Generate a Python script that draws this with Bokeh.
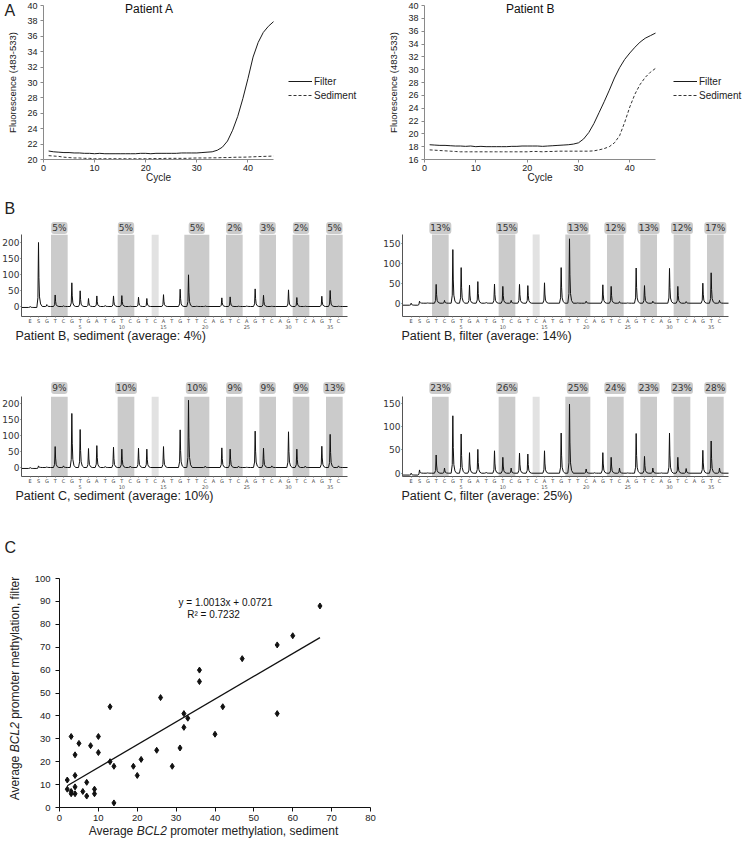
import math
from bokeh.plotting import figure
from bokeh.models import Range1d, Label, Legend, LegendItem, FixedTicker, LinearAxis
from bokeh.layouts import column, row
from bokeh.embed import file_html
from bokeh.resources import INLINE

SANS = "Liberation Sans"
DEJA = "DejaVu Sans"

# ---------------- Panel A data (real-time PCR curves) ----------------
cycles = list(range(1, 46))
a_filter = [21.1, 21.0, 20.95, 20.9, 20.9, 20.85, 20.85, 20.8, 20.8, 20.75,
            20.8, 20.75, 20.75, 20.75, 20.75, 20.75, 20.75, 20.75, 20.8, 20.8,
            20.75, 20.8, 20.8, 20.8, 20.8, 20.8, 20.85, 20.85, 20.85, 20.85,
            20.9, 20.95, 21.0, 21.2, 21.6, 22.4, 23.8, 25.6, 27.9, 30.5,
            33.3, 35.2, 36.5, 37.3, 37.9]
a_sediment = [20.5, 20.45, 20.4, 20.3, 20.25, 20.2, 20.2, 20.15, 20.15, 20.1,
              20.1, 20.1, 20.1, 20.1, 20.1, 20.1, 20.1, 20.1, 20.1, 20.1,
              20.12, 20.12, 20.12, 20.15, 20.15, 20.15, 20.15, 20.15, 20.18, 20.2,
              20.2, 20.2, 20.22, 20.22, 20.25, 20.25, 20.28, 20.3, 20.3, 20.32,
              20.35, 20.38, 20.4, 20.42, 20.45]
b_filter = [18.3, 18.25, 18.2, 18.2, 18.15, 18.1, 18.1, 18.05, 18.1, 18.0,
            18.05, 18.0, 18.0, 18.0, 18.0, 18.0, 18.05, 18.05, 18.1, 18.1,
            18.1, 18.1, 18.05, 18.1, 18.15, 18.2, 18.25, 18.3, 18.4, 18.6,
            19.2, 20.2, 21.6, 23.3, 25.0, 26.8, 28.7, 30.3, 31.6, 32.6,
            33.5, 34.3, 34.9, 35.3, 35.7]
b_sediment = [17.5, 17.45, 17.4, 17.35, 17.3, 17.25, 17.2, 17.2, 17.2, 17.2,
              17.2, 17.2, 17.2, 17.2, 17.2, 17.2, 17.2, 17.2, 17.2, 17.2,
              17.25, 17.25, 17.2, 17.25, 17.25, 17.3, 17.3, 17.3, 17.3, 17.3,
              17.3, 17.3, 17.35, 17.5, 17.7, 18.0, 18.6, 19.7, 21.8, 24.2,
              26.2, 27.7, 28.8, 29.6, 30.2]
a_x_ticks = [0, 10, 20, 30, 40]

# ---------------- Panel B data (pyrograms) ----------------
dispensation = ["E", "S", "G", "T", "C", "G", "T", "G", "A", "T",
                "G", "T", "C", "G", "T", "C", "A", "T", "G", "T",
                "T", "C", "A", "G", "T", "C", "A", "G", "T", "C",
                "A", "G", "T", "C", "A", "G", "T", "C"]
cpg_sites = [(2, 3), (10, 11), (18, 20), (23, 24), (27, 28), (31, 32), (35, 36)]
control_site = 14
number_ticks = [5, 10, 15, 20, 25, 30, 35]

pb_sed_heights = [0, 200, 6, 36, 2, 74, 49, 25, 33, 3, 33, 34, 1, 29, 25, 0, 37, 0, 54, 99,
                  1, 2, 0, 27, 30, 1, 2, 55, 35, 1, 0, 52, 28, 1, 0, 32, 50, 1]
pb_fil_heights = [0, 5, 1, 47, 7, 134, 89, 45, 54, 2, 48, 42, 7, 47, 44, 0, 51, 0, 89, 161,
                  1, 5, 0, 46, 42, 4, 1, 88, 44, 5, 0, 87, 42, 4, 0, 50, 76, 7]
pc_sed_heights = [0, 5, 2, 65, 5, 168, 118, 59, 68, 3, 63, 57, 4, 60, 57, 0, 65, 0, 117, 209,
                  0, 4, 0, 61, 57, 4, 1, 113, 60, 5, 0, 111, 57, 4, 0, 66, 103, 5]
pc_fil_heights = [0, 7, 1, 39, 11, 123, 84, 44, 51, 2, 48, 34, 11, 43, 41, 0, 48, 0, 86, 148,
                  0, 9, 1, 44, 34, 11, 1, 85, 36, 11, 1, 86, 34, 10, 0, 49, 69, 11]
pb_sed_start, pb_fil_start, pc_sed_start, pc_fil_start = -3, -5, -3, -4

pb_sed_pct = ["5%", "5%", "5%", "2%", "3%", "2%", "5%"]
pb_fil_pct = ["13%", "15%", "13%", "12%", "13%", "12%", "17%"]
pc_sed_pct = ["9%", "10%", "10%", "9%", "9%", "9%", "13%"]
pc_fil_pct = ["23%", "26%", "25%", "24%", "23%", "23%", "28%"]

pb_sed_caption = "Patient B, sediment (average: 4%)"
pb_fil_caption = "Patient B, filter (average: 14%)"
pc_sed_caption = "Patient C, sediment (average: 10%)"
pc_fil_caption = "Patient C, filter (average: 25%)"

# ---------------- Panel C data (scatter) ----------------
sediment_meth = [2, 2, 3, 3, 3, 4, 4, 4, 4, 5, 6, 7, 7, 8, 9, 9, 10, 10, 13, 13, 14,
                 14, 19, 20, 21, 25, 26, 29, 31, 32, 32, 33, 36, 36, 40, 42, 47, 56, 56, 60, 67]
filter_meth = [12, 8, 31, 7, 6, 23, 14, 9, 6, 28, 7, 11, 5, 27, 8, 6, 31, 24, 44, 20, 18,
               2, 18, 14, 21, 25, 48, 18, 26, 41, 35, 39, 60, 55, 32, 44, 65, 71, 41, 75, 88]
trend_x = [2, 67]
trend_y = [9.5, 74.2]
c_x_ticks = list(range(0, 90, 10))
c_y_ticks = list(range(0, 110, 10))
equation_text = "y = 1.0013x + 0.0721"
r2_text = "R\u00b2 = 0.7232"


class Geo:
    """Figure box and plot-area box in page pixels, plus the plot-area data limits."""
    def __init__(self, fx, fy, fw, fh, pl, pr, pt, pb, x0, x1, y0, y1):
        self.fx, self.fy, self.fw, self.fh = fx, fy, fw, fh
        self.pl, self.pr, self.pt, self.pb = pl, pr, pt, pb
        self.x0, self.x1, self.y0, self.y1 = x0, x1, y0, y1

    def x(self, px):
        return self.x0 + (px - self.pl) * (self.x1 - self.x0) / (self.pr - self.pl)

    def y(self, py):
        return self.y0 + (self.pb - py) * (self.y1 - self.y0) / (self.pb - self.pt)


def make_fig(g):
    # the frame fills the whole figure; axes are pinned with fixed_location
    p = figure(width=g.fw, height=g.fh, title=None,
               x_range=Range1d(g.x(g.fx), g.x(g.fx + g.fw)),
               y_range=Range1d(g.y(g.fy + g.fh), g.y(g.fy)),
               output_backend="svg", toolbar_location=None,
               min_border_left=0, min_border_right=0,
               min_border_top=0, min_border_bottom=0)
    p.outline_line_color = None
    p.xgrid.visible = False
    p.ygrid.visible = False
    p.xaxis.fixed_location = g.y0
    p.yaxis.fixed_location = g.x0
    p.xaxis.bounds = (g.x0, g.x1)
    p.yaxis.bounds = (g.y0, g.y1)
    return p


def add_text(p, g, px, py, text, size, font=SANS, align="left", baseline="middle",
             angle=0.0, style="normal", color="#222222"):
    p.add_layout(Label(x=g.x(px), y=g.y(py), text=text, text_font=font,
                       text_font_size=f"{size}px", text_align=align,
                       text_baseline=baseline, angle=angle,
                       text_font_style=style, text_color=color))


# ---------------- Panel A ----------------
def pcr_panel(g, filt, sed, yticks, title, title_x, legend_px, letter=None):
    p = make_fig(g)
    r1 = p.line(cycles, filt, line_color="#1a1a1a", line_width=1.0)
    r2 = p.line(cycles, sed, line_color="#333333", line_width=1.0, line_dash="3 2")
    for ax in (p.xaxis[0], p.yaxis[0]):
        ax.axis_line_color = "#8a8a8a"
        ax.major_tick_line_color = "#8a8a8a"
        ax.minor_tick_line_color = None
        ax.major_tick_out = 3
        ax.major_tick_in = 0
        ax.major_label_text_font = SANS
        ax.major_label_text_font_size = "9px"
        ax.major_label_text_color = "#222222"
        ax.axis_label_text_font = SANS
        ax.axis_label_text_font_style = "normal"
        ax.axis_label_text_color = "#222222"
    p.xaxis.ticker = FixedTicker(ticks=a_x_ticks)
    p.yaxis.ticker = FixedTicker(ticks=yticks)
    p.xaxis.major_label_standoff = 2
    p.yaxis.major_label_standoff = 3
    p.xaxis.axis_label = "Cycle"
    p.xaxis.axis_label_text_font_size = "10px"
    p.xaxis.axis_label_standoff = -2
    p.yaxis.axis_label = "Fluorescence (483-533)"
    p.yaxis.axis_label_text_font_size = "9.5px"
    p.yaxis.axis_label_standoff = 6
    add_text(p, g, g.pl + (g.pr - g.pl) * title_x / 45.0, 8, title, 12, align="center",
             color="#111111")
    leg = Legend(items=[LegendItem(label="Filter", renderers=[r1]),
                        LegendItem(label="Sediment", renderers=[r2])],
                 location=(legend_px - g.fx, g.fy + g.fh - 101), border_line_color=None,
                 background_fill_alpha=0, label_text_font=SANS,
                 label_text_font_size="10px", label_text_color="#222222",
                 glyph_width=24, glyph_height=12, label_height=12, spacing=2,
                 label_standoff=2, margin=0, padding=0)
    p.add_layout(leg)
    if letter:
        add_text(p, g, 4, 10, letter, 16)
    return p


gA1 = Geo(0, 0, 370, 185, 43, 273, 5, 159, 0, 45, 20, 40)
gA2 = Geo(370, 0, 372, 185, 424, 655, 5, 159, 0, 45, 16, 40)
pA1 = pcr_panel(gA1, a_filter, a_sediment, list(range(20, 42, 2)), "Patient A", 20.7, 288, "A")
pA2 = pcr_panel(gA2, b_filter, b_sediment, list(range(16, 42, 2)), "Patient B", 20.6, 673)


# ---------------- Panel B ----------------
def trace(heights, start_level, x_left, x_right):
    xs = [x_left]
    ys = [start_level]
    for k, h in enumerate(heights):
        pos = k - 1
        pre = start_level if pos <= 0 else 0.0
        post = start_level if pos < 0 else 0.0
        if h <= pre + 0.5:
            continue
        xs += [pos - 0.2, pos - 0.07, pos, pos + 0.05, pos + 0.12, pos + 0.25, pos + 0.45]
        ys += [pre, pre + 0.15 * (h - pre), h, post + 0.45 * (h - post),
               post + 0.15 * (h - post), post + 0.04 * (h - post), post]
    xs.append(x_right)
    ys.append(0.0)
    return xs, ys


def pyro_panel(fx, fy, fw, pl, zero_py, ppu, axis_top_py, heights, start, pcts, caption,
               yticks, caption_px, letter=None):
    pb = fy + 131
    x0, x1 = -2.04, 37.08
    y0 = -(pb - zero_py) / ppu
    y1 = (zero_py - axis_top_py) / ppu
    g = Geo(fx, fy, fw, 160, pl, pl + 326, axis_top_py, pb, x0, x1, y0, y1)
    p = make_fig(g)
    for (a, b) in cpg_sites:
        p.quad(left=[a - 0.5], right=[b + 0.5], bottom=[y0], top=[y1],
               fill_color="#cbcbcb", line_color=None)
    p.quad(left=[control_site - 0.42], right=[control_site + 0.42], bottom=[y0], top=[y1],
           fill_color="#e2e2e2", line_color=None)
    xs, ys = trace(heights, start, x0, x1)
    p.line(xs, ys, line_color="#111111", line_width=1.0)
    for (a, b), t in zip(cpg_sites, pcts):
        p.add_layout(Label(x=(a + b) / 2, y=g.y(fy + 42.5), text=t, text_font=DEJA,
                           text_font_size="9px", text_align="center", text_baseline="middle",
                           text_color="#333333", background_fill_color="#cbcbcb",
                           padding=1, border_radius=3))
    xa = p.xaxis[0]
    xa.ticker = FixedTicker(ticks=list(range(-1, 37)))
    xa.major_label_overrides = {i - 1: s for i, s in enumerate(dispensation)}
    xa.major_label_text_font = DEJA
    xa.major_label_text_font_size = "5px"
    xa.major_label_text_color = "#444444"
    xa.major_label_standoff = 0
    xa.major_tick_out = 1
    xa.major_tick_in = 0
    xa.minor_tick_line_color = None
    xa.axis_line_color = "#555555"
    xa.major_tick_line_color = "#777777"
    nax = LinearAxis(ticker=FixedTicker(ticks=number_ticks), axis_line_color=None,
                     major_tick_line_color=None, minor_tick_line_color=None,
                     major_tick_out=0, major_tick_in=0,
                     major_label_text_font=DEJA, major_label_text_font_size="5px",
                     major_label_text_color="#555555", major_label_standoff=8,
                     fixed_location=y0)
    p.add_layout(nax, "below")
    ya = p.yaxis[0]
    ya.ticker = FixedTicker(ticks=yticks)
    ya.major_label_text_font = DEJA
    ya.major_label_text_font_size = "9px"
    ya.major_label_text_color = "#333333"
    ya.major_label_standoff = 1
    ya.major_tick_out = 1
    ya.major_tick_in = 0
    ya.minor_tick_line_color = None
    ya.axis_line_color = "#555555"
    ya.major_tick_line_color = "#555555"
    add_text(p, g, caption_px, fy + 150, caption, 12.5)
    if letter:
        add_text(p, g, 4, fy + 23, letter, 16)
    return p


pB1 = pyro_panel(0, 185, 370, 21, 306, 0.32, 234.3, pb_sed_heights, pb_sed_start,
                 pb_sed_pct, pb_sed_caption, [0, 50, 100, 150, 200], 15, "B")
pB2 = pyro_panel(370, 185, 372, 402, 302.7, 0.4, 234.0, pb_fil_heights, pb_fil_start,
                 pb_fil_pct, pb_fil_caption, [0, 50, 100, 150], 401)
pB3 = pyro_panel(0, 345, 370, 21, 467, 0.3217, 396.2, pc_sed_heights, pc_sed_start,
                 pc_sed_pct, pc_sed_caption, [0, 50, 100, 150, 200], 15)
pB4 = pyro_panel(370, 345, 372, 402, 472.7, 0.4667, 396.2, pc_fil_heights, pc_fil_start,
                 pc_fil_pct, pc_fil_caption, [0, 50, 100, 150], 401)

# ---------------- Panel C ----------------
gC = Geo(0, 505, 742, 343, 59, 370, 578, 807, 0, 80, 0, 100)
pC = make_fig(gC)
pC.line(trend_x, trend_y, line_color="#111111", line_width=1.3)
pC.scatter(sediment_meth, filter_meth, marker="diamond", size=6,
           fill_color="#111111", line_color="#111111")
for ax in (pC.xaxis[0], pC.yaxis[0]):
    ax.axis_line_color = "#111111"
    ax.major_tick_line_color = "#111111"
    ax.minor_tick_line_color = None
    ax.major_tick_out = 4
    ax.major_tick_in = 0
    ax.major_label_text_font = SANS
    ax.major_label_text_font_size = "9.5px"
    ax.major_label_text_color = "#222222"
pC.xaxis.ticker = FixedTicker(ticks=c_x_ticks)
pC.yaxis.ticker = FixedTicker(ticks=c_y_ticks)
pC.xaxis.major_label_standoff = 3
pC.yaxis.major_label_standoff = 5
add_text(pC, gC, 225, 602, equation_text, 10, align="center", color="#111111")
add_text(pC, gC, 213, 613.5, r2_text, 10, align="center", color="#111111")
# axis titles with the italic gene name
fs = 12.0
w_average = 4.002 * fs        # width of "Average "
w_prefix = 6.781 * fs         # width of "Average BCL2 "
x_start = 213 - 20.786 * fs / 2
add_text(pC, gC, x_start, 830, "Average", fs)
add_text(pC, gC, x_start + w_average, 830, "BCL2", fs, style="italic")
add_text(pC, gC, x_start + w_prefix, 830, "promoter methylation, sediment", fs)
y_start = 688 + 18.618 * fs / 2
add_text(pC, gC, 14, y_start, "Average", fs, angle=math.pi / 2)
add_text(pC, gC, 14, y_start - w_average, "BCL2", fs, angle=math.pi / 2, style="italic")
add_text(pC, gC, 14, y_start - w_prefix, "promoter methylation, filter", fs, angle=math.pi / 2)
add_text(pC, gC, 4, 547, "C", 16)

root = column(row(pA1, pA2), row(pB1, pB2), row(pB3, pB4), pC)

with open("out.html", "w") as f:
    f.write(file_html(root, INLINE))
